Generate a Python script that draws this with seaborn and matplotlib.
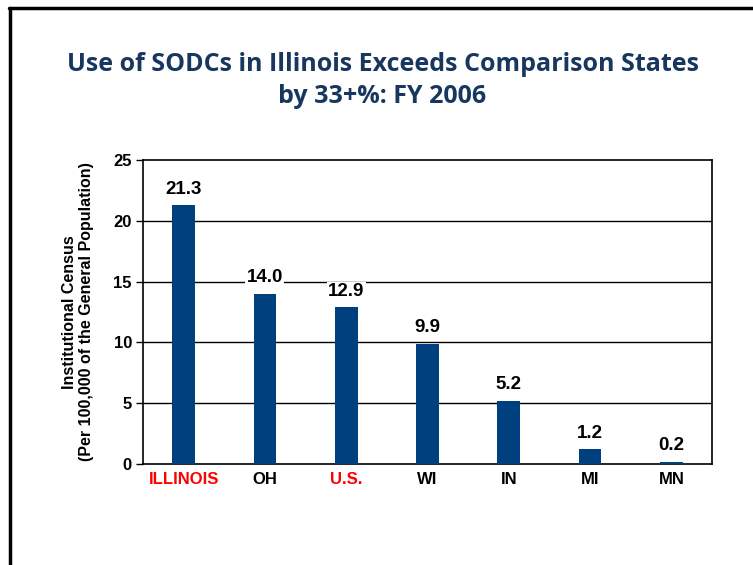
import matplotlib
matplotlib.use("Agg")
import matplotlib.pyplot as plt
import seaborn as sns
import numpy as np
from matplotlib.lines import Line2D

states = ["ILLINOIS", "OH", "U.S.", "WI", "IN", "MI", "MN"]
census = [21.3, 14.0, 12.9, 9.9, 5.2, 1.2, 0.2]
label_colors = ["#FF0000", "black", "#FF0000", "black", "black", "black", "black"]
yticks = [0, 5, 10, 15, 20, 25]

sns.set_style("white")
plt.rcParams['font.family'] = ['Liberation Sans', 'DejaVu Sans']
plt.rcParams['text.color'] = 'black'

fig = plt.figure(figsize=(7.53, 5.65), dpi=100)
ax = fig.add_axes([0.190, 0.1788, 0.7556, 0.538])

sns.barplot(x=states, y=census, color="#00407F", saturation=1, width=0.28,
            linewidth=0, ax=ax, zorder=3)

ax.set_ylim(0, 25)
ax.set_xlim(-0.5, len(states) - 0.5)
ax.set_yticks(yticks)
ax.set_yticklabels([str(t) for t in yticks], fontsize=12, fontweight="bold", color="black")
for t in yticks[1:-1]:
    ax.axhline(t, color="black", lw=1, zorder=1)

ax.set_xticks(range(len(states)))
ax.set_xticklabels(states, fontsize=12, fontweight="bold")
for lbl, c in zip(ax.get_xticklabels(), label_colors):
    lbl.set_color(c)
ax.tick_params(axis="x", length=0, pad=6)
ax.set_xticks(np.arange(0.5, len(states) - 1, 1), minor=True)
ax.tick_params(axis="x", which="minor", direction="in", length=5, width=1, color="black")
ax.tick_params(axis="y", direction="out", length=5, width=1, color="black", left=True, pad=3)

for s in ax.spines.values():
    s.set_color("black")
    s.set_linewidth(1.2)

for i, v in enumerate(census):
    ax.text(i, v + 0.6, f"{v:.1f}", ha="center", va="bottom", fontsize=13.5,
            fontweight="bold", color="black", zorder=4,
            bbox=dict(facecolor="white", edgecolor="none", pad=1))

ax.set_ylabel("Institutional Census\n(Per 100,000 of the General Population)",
              fontsize=11.5, fontweight="bold", color="black", labelpad=14, linespacing=1.15)

fig.text(0.508, 0.858, "Use of SODCs in Illinois Exceeds Comparison States\nby 33+%: FY 2006",
         ha="center", va="center", fontsize=18, fontweight="bold", color="#17375E",
         family=["Open Sans", "DejaVu Sans"], linespacing=1.35)

fig.add_artist(Line2D([0.012, 1.0], [0.985, 0.985], color="black", lw=2.5, transform=fig.transFigure))
fig.add_artist(Line2D([0.0135, 0.0135], [0.0, 0.985], color="black", lw=2.5, transform=fig.transFigure))

fig.savefig("out.png", dpi=100)
